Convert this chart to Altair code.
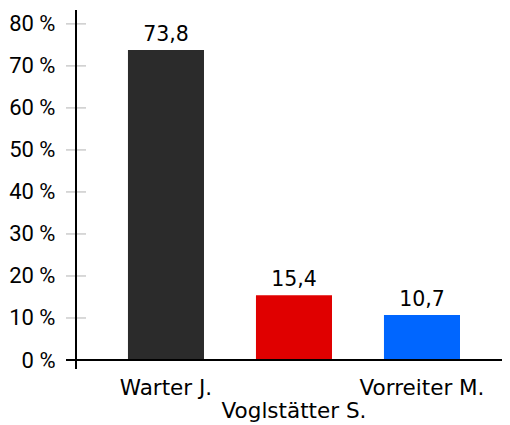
import altair as alt
import pandas as pd

candidates = ["Warter J.", "Voglstätter S.", "Vorreiter M."]
shares = [73.8, 15.4, 10.7]
share_labels = ["73,8", "15,4", "10,7"]
colors = ["#2b2b2b", "#e00000", "#0066ff"]
y_ticks = [0, 10, 20, 30, 40, 50, 60, 70, 80]

df = pd.DataFrame({"name": candidates, "share": shares, "label": share_labels, "color": colors})
ticks_df = pd.DataFrame({"v": y_ticks[1:]})

W, H = 426, 350
ydom = [0, 83.3]

x_enc = alt.X("name:N", sort=candidates,
              scale=alt.Scale(paddingInner=0.406, paddingOuter=0.367, align=0.553),
              axis=alt.Axis(labels=False, ticks=False, domain=False, title=None))
y_scale = alt.Scale(domain=ydom, nice=False, zero=True)

base = alt.Chart(df)

bars = base.mark_bar().encode(
    x=x_enc,
    y=alt.Y("share:Q", scale=y_scale,
            axis=alt.Axis(values=y_ticks, labelExpr="datum.value + ' %'", domain=False,
                          ticks=False, grid=False, title=None, labelFont="Roboto",
                          labelFontSize=22, labelColor="#000", labelPadding=21)),
    color=alt.Color("color:N", scale=None),
)

values = base.mark_text(dy=-9, baseline="alphabetic", font="DejaVu Sans", fontSize=20.5, color="#000").encode(
    x=alt.X("name:N", sort=candidates), y=alt.Y("share:Q", scale=y_scale), text="label:N"
)

row1 = base.transform_window(idx="row_number()").transform_filter("datum.idx % 2 == 1").mark_text(
    baseline="alphabetic", font="DejaVu Sans", fontSize=21.5, color="#000").encode(
    x=alt.X("name:N", sort=candidates), y=alt.value(H + 35), text="name:N")
row2 = base.transform_window(idx="row_number()").transform_filter("datum.idx % 2 == 0").mark_text(
    baseline="alphabetic", font="DejaVu Sans", fontSize=21.5, color="#000").encode(
    x=alt.X("name:N", sort=candidates), y=alt.value(H + 58), text="name:N")

tick_marks = alt.Chart(ticks_df).mark_rule(color="#cccccc", strokeWidth=1.5).encode(
    y=alt.Y("v:Q", scale=y_scale), x=alt.value(-10), x2=alt.value(10))

y_line = alt.Chart(ticks_df).mark_rule(color="#000", strokeWidth=2).encode(
    x=alt.value(0), y=alt.value(0), y2=alt.value(H + 9))
x_line = alt.Chart(ticks_df).mark_rule(color="#000", strokeWidth=2).encode(
    x=alt.value(-10), x2=alt.value(W), y=alt.value(H))

chart = alt.layer(bars, values, row1, row2, tick_marks, y_line, x_line).properties(
    width=W, height=H,
    autosize=alt.AutoSizeParams(type="none"),
    padding={"left": 68, "top": 2, "right": 0, "bottom": 66},
).configure_view(stroke=None)

chart.save("out.html", embed_options={"renderer": "svg", "actions": False})
